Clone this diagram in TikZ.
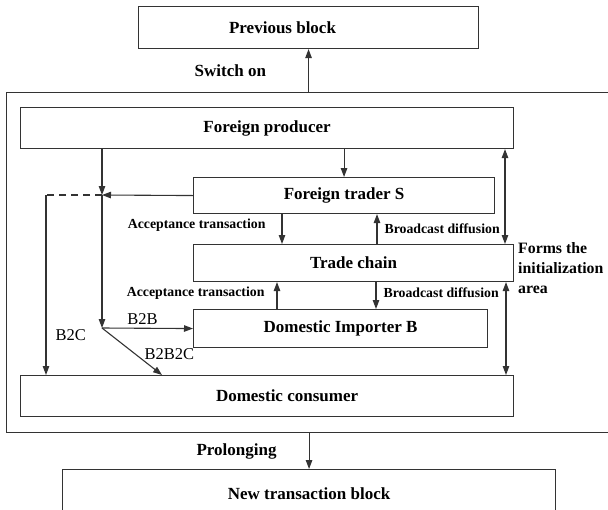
\documentclass[tikz,border=0pt]{standalone}
\usepackage{fontspec}
\setmainfont{Liberation Serif}
\usetikzlibrary{positioning, arrows.meta, calc}

\begin{document}
\begin{tikzpicture}[
    x=1pt, y=-1pt,
    block node/.style={
        draw=black!80, rectangle, anchor=north west, line width=1.1pt,
        inner sep=0pt, font=\fontsize{17}{20}\selectfont\bfseries
    },
    every label/.style={font=\fontsize{17}{20}\selectfont\bfseries},
    msg/.style={-{Triangle[length=9pt, width=6.5pt]}, line width=1.1pt, draw=black!80},
    both msg/.style={{Triangle[length=9pt, width=6.5pt]}-{Triangle[length=9pt, width=6.5pt]}, line width=1.1pt, draw=black!80},
    lbl/.style={inner sep=0pt, font=\fontsize{13.8}{16}\selectfont\bfseries},
    lbl big/.style={inner sep=0pt, font=\fontsize{17}{20}\selectfont\bfseries},
    lbl reg/.style={inner sep=0pt, font=\fontsize{16.5}{19}\selectfont}
]

% picture frame (the outer area runs past the right edge)
\path[use as bounding box, clip] (0,0) rectangle (608,509);

% ------------------------------------------------------------------------------
% 1. BLOCKS
% ------------------------------------------------------------------------------
\node[block node, minimum width=340pt, minimum height=42pt,
      label={[xshift=-26pt]center:Previous block}] (prev) at (138,6) {};
\node[block node, minimum width=640pt, minimum height=340pt] (area) at (6,92) {};
\node[block node, minimum width=493pt, minimum height=41pt] (fp) at (20,107) {Foreign producer};
\node[block node, minimum width=301pt, minimum height=36pt] (trader) at (193,177) {Foreign trader S};
\node[block node, minimum width=320pt, minimum height=37pt] (chain) at (193,244) {Trade chain};
\node[block node, minimum width=294pt, minimum height=38pt] (imp) at (193,309) {Domestic Importer B};
\node[block node, minimum width=493pt, minimum height=41pt,
      label={[xshift=20pt]center:Domestic consumer}] (cons) at (20,375) {};
\node[block node, minimum width=493pt, minimum height=44pt,
      label={[yshift=-2pt]center:New transaction block}] (new) at (62,469) {};

% side note
\node[anchor=west, align=left, inner sep=0pt,
      font=\fontsize{15.8}{20}\selectfont\bfseries] (note) at (518,268) {Forms the\\initialization\\area};

% ------------------------------------------------------------------------------
% 2. CHAIN LINKS
% ------------------------------------------------------------------------------
\draw[msg] (prev.south |- area.north) -- node[lbl big, left=42pt] {Switch on} (prev.south);
\draw[msg] (area.south -| new.north) -- node[lbl big, left=32pt] {Prolonging} (new.north);

% ------------------------------------------------------------------------------
% 3. FLOWS INSIDE THE AREA
% ------------------------------------------------------------------------------
\coordinate (jn) at (102,195);
\coordinate (split) at (102,328);
\coordinate (b2c) at (46,195);

\draw[msg] (trader.north |- fp.south) -- (trader.north);
\draw[msg] (jn |- fp.south) -- (jn);
\draw[msg] (trader.west) -- (jn);
\draw[line width=1.1pt, draw=black!80, dashed, dash pattern=on 7pt off 5pt] (jn) -- (b2c);
\draw[msg] (b2c) -- node[lbl reg, right=9pt, pos=0.78] {B2C} (b2c |- cons.north);
\draw[msg] (jn) -- (split);
\draw[msg] (split) -- node[lbl reg, above=3pt, xshift=-5pt] {B2B} (imp.west);
\draw[msg] (split) -- node[lbl reg, right=9pt, pos=0.55] {B2B2C} ($(cons.north west)+(142,0)$);

% acceptance / broadcast
\draw[msg] (282,0 |- trader.south) -- node[lbl, left=16pt, yshift=3.5pt] {Acceptance transaction} (282,0 |- chain.north);
\draw[msg] (277,0 |- imp.north) -- node[lbl, left=12pt, yshift=2pt] {Acceptance transaction} (277,0 |- chain.south);
\draw[msg] (377,0 |- chain.north) -- node[lbl, right=7pt] {Broadcast diffusion} (377,0 |- trader.south);
\draw[msg] (376,0 |- chain.south) -- node[lbl, right=7pt, yshift=3pt] {Broadcast diffusion} (376,0 |- imp.north);

% initialization area links
\draw[both msg] (505,0 |- fp.south) -- (505,0 |- chain.north);
\draw[both msg] (506,0 |- chain.south) -- (506,0 |- cons.north);

\end{tikzpicture}
\end{document}
